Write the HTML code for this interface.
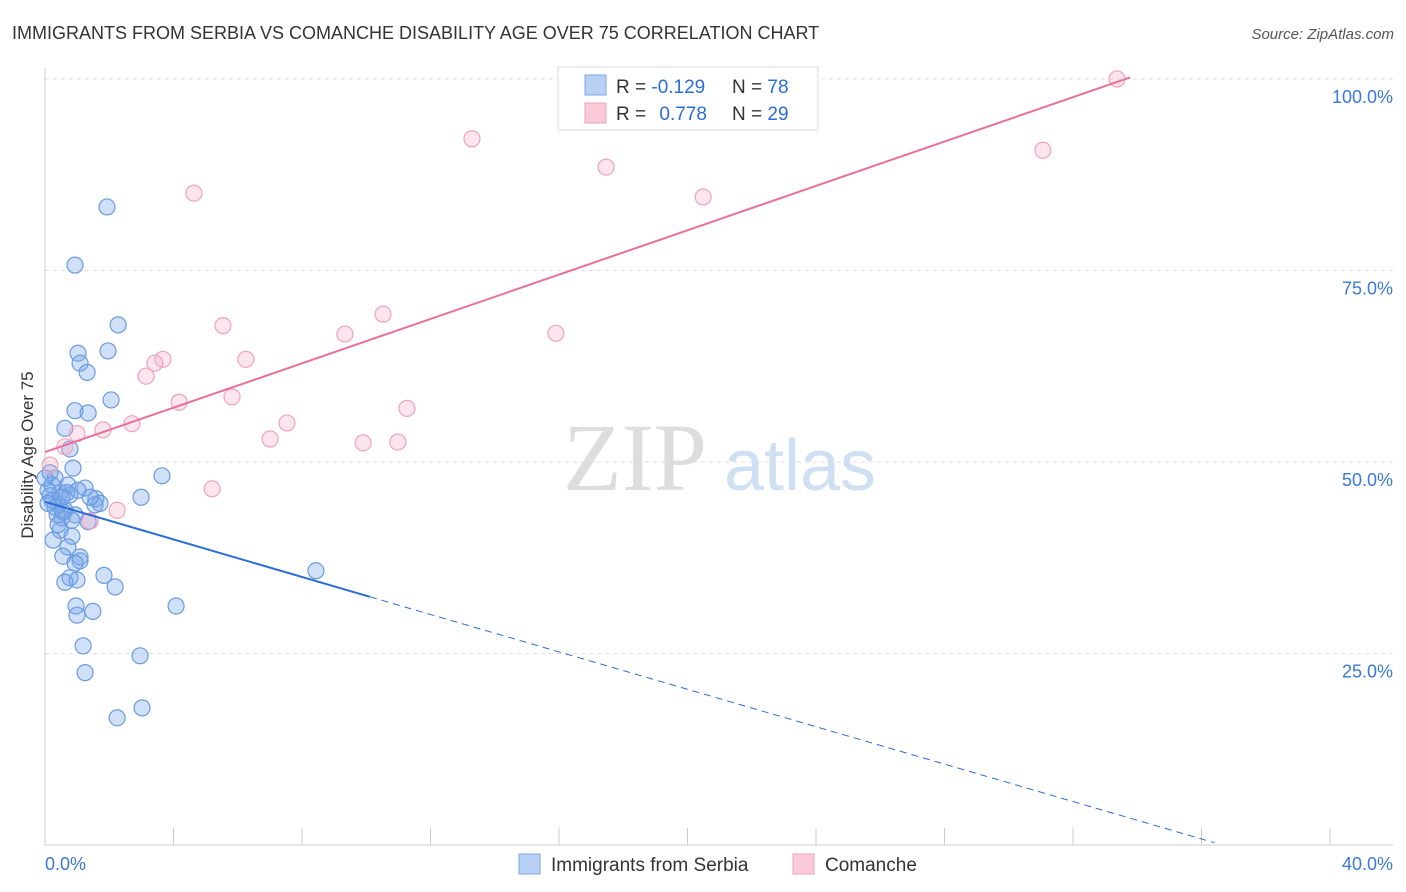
<!DOCTYPE html>
<html><head><meta charset="utf-8"><style>
body{margin:0;background:#fff;font-family:"Liberation Sans",sans-serif}
svg{display:block}
</style></head><body>
<svg id="chart" width="1406" height="892" xmlns="http://www.w3.org/2000/svg">
<text x="12" y="39" font-size="18" fill="#333">IMMIGRANTS FROM SERBIA VS COMANCHE DISABILITY AGE OVER 75 CORRELATION CHART</text>
<text x="1394" y="39" font-size="15" fill="#555" font-style="italic" text-anchor="end">Source: ZipAtlas.com</text>
<g id="grid"></g>
<g>
<text x="635" y="490" font-size="96" font-family="Liberation Serif" fill="#ddd" text-anchor="middle">ZIP</text>
<text x="800" y="490" font-size="72" fill="#cfe0f3" text-anchor="middle">atlas</text>
</g>
<g id="axes"></g>
<g id="marks"></g>
<text transform="translate(33,455) rotate(-90)" font-size="17" fill="#333" text-anchor="middle">Disability Age Over 75</text>
<g>
<rect x="558" y="67" width="260" height="63" fill="#fff" stroke="#ddd"/>
<rect x="585" y="75" width="21" height="20" fill="#b7d0f3" stroke="#7ea8e3"/>
<rect x="585" y="103" width="21" height="20" fill="#f9cad8" stroke="#f0a2bb"/>
<text x="616" y="93" font-size="19" fill="#333">R = <tspan fill="#2a6dd6">-0.129</tspan></text>
<text x="732" y="93" font-size="19" fill="#333">N = <tspan fill="#2a6dd6">78</tspan></text>
<text x="616" y="120" font-size="19" fill="#333">R = <tspan fill="#2a6dd6" dx="8">0.778</tspan></text>
<text x="732" y="120" font-size="19" fill="#333">N = <tspan fill="#2a6dd6">29</tspan></text>
</g>
<g>
<rect x="519" y="854" width="21" height="20" fill="#b7d0f3" stroke="#7ea8e3"/>
<text x="551" y="871" font-size="19" fill="#333">Immigrants from Serbia</text>
<rect x="793" y="854" width="21" height="20" fill="#f9cad8" stroke="#f0a2bb"/>
<text x="825" y="871" font-size="19" fill="#333">Comanche</text>
</g>
</svg>
<script>
const yTicks=[25,50,75,100];
const yTickLabels=["25.0%","50.0%","75.0%","100.0%"];
const xLabels=["0.0%","40.0%"];
const serbiaX=[1.84,0.89,2.17,0.98,1.87,1.04,1.25,1.96,0.89,1.28,0.59,0.74,0.83,3.47,2.85,1.51,1.63,1.19,0.68,0.30,0.15,0.45,0.74,0.21,0.39,0.59,0.89,0.50,1.28,0.80,0.36,0.45,0.80,0.24,0.68,1.04,0.53,1.04,0.89,1.75,0.74,0.95,0.59,2.08,0.92,1.42,0.95,3.89,1.13,2.82,1.19,2.88,2.14,8.04,0.09,0.15,0.30,0.53,0.65,0.39,0.09,0.21,0.50,0.98,1.48,0,1.34];
const serbiaY=[83.3,75.7,67.9,64.2,64.5,62.9,61.7,58.1,56.7,56.4,54.4,51.7,49.2,48.2,45.4,45.2,44.6,46.6,47.0,47.9,48.6,46.0,45.7,45.0,44.4,43.7,43.1,42.7,42.2,42.4,43.1,41.1,40.3,39.8,38.9,37.6,37.7,37.1,36.8,35.2,34.9,34.6,34.3,33.7,31.2,30.5,30.0,31.2,26.0,24.7,22.5,17.9,16.6,35.8,46.3,45.6,44.1,43.5,46.0,41.8,44.6,47.0,45.4,46.3,44.4,47.9,45.4];
const comX=[31.81,12.67,29.61,16.65,4.42,19.53,5.28,10.03,8.90,15.16,3.50,3.26,5.96,3.00,3.98,5.55,10.74,7.18,2.58,1.72,0.95,6.68,9.44,10.47,0.59,4.96,2.14,1.34,0.15];
const comY=[100,92.2,90.7,88.5,85.1,84.6,67.8,69.3,66.7,66.8,63.4,62.9,63.4,61.2,57.8,58.5,57.0,55.1,55.0,54.2,53.7,53.0,52.5,52.6,52.0,46.5,43.7,42.3,49.6];
const serbiaTrend=[[0,44.8],[9.64,32.4],[34.7,0.3]];
const comTrend=[[0,51.3],[32.2,100.2]];
const NS="http://www.w3.org/2000/svg";
const X=v=>45+v*33.7, Y=v=>845-v*7.66;
function mk(p,tag,a){const e=document.createElementNS(NS,tag);for(const k in a)e.setAttribute(k,a[k]);p.appendChild(e);return e;}
const grid=document.getElementById('grid'),axes=document.getElementById('axes'),marks=document.getElementById('marks');
yTicks.forEach((t,i)=>{
 const l=mk(grid,'line',{x1:45,x2:1393,y1:Y(t),y2:Y(t),stroke:'#ddd','stroke-dasharray':'4,4'});
 
 
 const tx=mk(axes,'text',{x:1393,y:Y(t)+24,'font-size':18,fill:'#3a78d8','text-anchor':'end'});tx.textContent=yTickLabels[i];
 
 
});
mk(axes,'line',{x1:45,x2:45,y1:68,y2:845,stroke:'#ccc'});
mk(axes,'line',{x1:45,x2:1393,y1:845,y2:845,stroke:'#ccc'});
for(let i=1;i<=10;i++){const x=45+i*128.5;mk(axes,'line',{x1:x,x2:x,y1:828,y2:845,stroke:'#ccc'});}
const xl0=mk(axes,'text',{x:45,y:870,'font-size':18,fill:'#3a78d8'});xl0.textContent=xLabels[0];


const xl1=mk(axes,'text',{x:1393,y:870,'font-size':18,fill:'#3a78d8','text-anchor':'end'});xl1.textContent=xLabels[1];


serbiaX.forEach((v,i)=>{const c=mk(marks,'circle',{cx:X(v),cy:Y(serbiaY[i]),r:8,fill:'rgba(120,165,235,0.35)',stroke:'#6a9be0','stroke-width':1.2});
 
 });
comX.forEach((v,i)=>{const c=mk(marks,'circle',{cx:X(v),cy:Y(comY[i]),r:8,fill:'rgba(245,170,195,0.3)',stroke:'#efa3bb','stroke-width':1.2});
 
 });
const t1=mk(marks,'line',{x1:X(serbiaTrend[0][0]),y1:Y(serbiaTrend[0][1]),x2:X(serbiaTrend[1][0]),y2:Y(serbiaTrend[1][1]),stroke:'#2a6dd6','stroke-width':2});


const t2=mk(marks,'line',{x1:X(serbiaTrend[1][0]),y1:Y(serbiaTrend[1][1]),x2:X(serbiaTrend[2][0]),y2:Y(serbiaTrend[2][1]),stroke:'#2a6dd6','stroke-width':1,'stroke-dasharray':'7,5'});


const t3=mk(marks,'line',{x1:X(comTrend[0][0]),y1:Y(comTrend[0][1]),x2:X(comTrend[1][0]),y2:Y(comTrend[1][1]),stroke:'#e8709a','stroke-width':2});


</script>
</body></html>
